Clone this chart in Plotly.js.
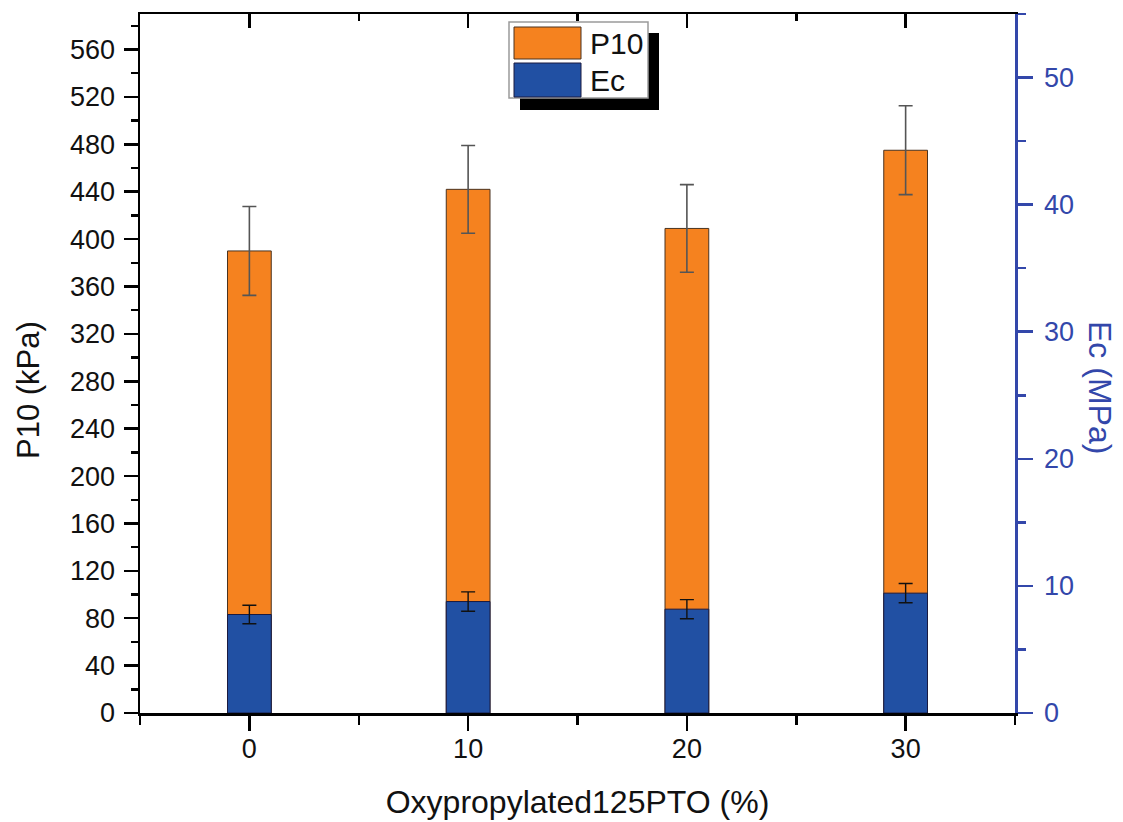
<!DOCTYPE html>
<html>
<head>
<meta charset="utf-8">
<script src="https://cdn.plot.ly/plotly-3.0.1.min.js"></script>
<style>
  html, body { margin: 0; padding: 0; background: #fff; }
  #chart { width: 1123px; height: 822px; }
</style>
</head>
<body>
<div id="chart"></div>
<script>
// Oxypropylated125PTO content (%)
const contents = [0, 10, 20, 30];

// P10 compressive stress (kPa) with standard deviation
const p10Values = [390, 442, 409, 475];
const p10Errors = [37.5, 37, 37, 37.5];

// Compressive modulus Ec (MPa) with standard deviation
const ecValues = [7.75, 8.77, 8.17, 9.43];
const ecErrors = [0.73, 0.76, 0.75, 0.76];

const seriesNames = ['P10', 'Ec'];
const axisTitles = { x: 'Oxypropylated125PTO (%)', y: 'P10 (kPa)', y2: 'Ec (MPa)' };

const ORANGE = '#F5821F';
const BLUE = '#2150A3';
const AXIS_BLUE = '#3347AA';
const FONT = 'Liberation Sans, Arial, sans-serif';

const W = 1123, H = 822;
const margin = { l: 140, r: 108, t: 14, b: 109, pad: 0 };
const plotW = W - margin.l - margin.r;
const plotH = H - margin.t - margin.b;

// pixel -> paper coordinate helpers for the legend box and side titles
const px = x => (x - margin.l) / plotW;
const py = y => (H - margin.b - y) / plotH;

const p10Trace = {
  type: 'bar',
  name: seriesNames[0],
  x: contents,
  y: p10Values,
  width: 2,
  marker: { color: ORANGE, line: { color: '#4a3320', width: 1 } },
  error_y: { type: 'data', array: p10Errors, visible: true, color: '#555', thickness: 1.6, width: 7 },
  xaxis: 'x',
  yaxis: 'y',
  showlegend: false
};

const ecTrace = {
  type: 'bar',
  name: seriesNames[1],
  x: contents,
  y: ecValues,
  width: 2,
  marker: { color: BLUE, line: { color: '#1a1a40', width: 1 } },
  error_y: { type: 'data', array: ecErrors, visible: true, color: '#111', thickness: 1.4, width: 7 },
  xaxis: 'x2',
  yaxis: 'y2',
  showlegend: false
};

const tickFont = { family: FONT, size: 27, color: '#111' };

const layout = {
  width: W,
  height: H,
  margin: margin,
  paper_bgcolor: '#fff',
  plot_bgcolor: '#fff',
  showlegend: false,
  barmode: 'overlay',
  xaxis: {
    range: [-5, 35],
    tickvals: contents,
    ticktext: contents.map(String),
    ticks: 'outside', ticklen: 15, tickwidth: 2.5, tickcolor: '#000',
    minor: { ticks: 'outside', ticklen: 9, tickwidth: 2.5, tickcolor: '#000', dtick: 5, tick0: -5 },
    showline: true, linecolor: '#000', linewidth: 2.5,
    showgrid: false, zeroline: false,
    tickfont: tickFont,
    ticklabelstandoff: -5,
    title: { text: axisTitles.x, font: { family: FONT, size: 32, color: '#111' }, standoff: 28 }
  },
  xaxis2: {
    overlaying: 'x',
    anchor: 'y2',
    side: 'top',
    range: [-5, 35],
    tickvals: contents,
    showticklabels: false,
    ticks: 'inside', ticklen: 14, tickwidth: 2.5, tickcolor: '#000',
    minor: { ticks: 'inside', ticklen: 7, tickwidth: 2.5, tickcolor: '#000', dtick: 5, tick0: -5 },
    showline: true, linecolor: '#000', linewidth: 2.5,
    showgrid: false, zeroline: false
  },
  yaxis: {
    range: [0, 590],
    dtick: 40, tick0: 0,
    ticks: 'outside', ticklen: 14, tickwidth: 2.5, tickcolor: '#000',
    minor: { ticks: 'outside', ticklen: 7, tickwidth: 2.5, tickcolor: '#000', dtick: 20, tick0: 0 },
    showline: true, linecolor: '#000', linewidth: 2.5,
    showgrid: false, zeroline: false,
    tickfont: tickFont,
    ticklabelstandoff: 3
  },
  yaxis2: {
    overlaying: 'y',
    side: 'right',
    anchor: 'x2',
    range: [0, 55],
    dtick: 10, tick0: 0,
    ticks: 'outside', ticklen: 15, tickwidth: 2.5, tickcolor: AXIS_BLUE,
    minor: { ticks: 'outside', ticklen: 8, tickwidth: 2.5, tickcolor: AXIS_BLUE, dtick: 5, tick0: 0 },
    showline: true, linecolor: AXIS_BLUE, linewidth: 2.5,
    showgrid: false, zeroline: false,
    tickfont: { family: FONT, size: 27, color: AXIS_BLUE },
    ticklabelstandoff: 6
  },
  shapes: [
    // legend drop shadow
    { type: 'rect', xref: 'paper', yref: 'paper', x0: px(520), x1: px(659), y0: py(110), y1: py(33),
      fillcolor: '#000', line: { width: 0 }, layer: 'above' },
    // legend frame
    { type: 'rect', xref: 'paper', yref: 'paper', x0: px(509), x1: px(648), y0: py(98), y1: py(22),
      fillcolor: '#fff', line: { color: '#9a9a9a', width: 1.5 }, layer: 'above' },
    // legend swatches
    { type: 'rect', xref: 'paper', yref: 'paper', x0: px(514), x1: px(581), y0: py(59), y1: py(27),
      fillcolor: ORANGE, line: { color: '#4a3320', width: 1 }, layer: 'above' },
    { type: 'rect', xref: 'paper', yref: 'paper', x0: px(514), x1: px(581), y0: py(97), y1: py(63),
      fillcolor: BLUE, line: { color: '#1a1a40', width: 1 }, layer: 'above' }
  ],
  annotations: [
    { xref: 'paper', yref: 'paper', x: px(588), y: py(44), xanchor: 'left', yanchor: 'middle',
      text: seriesNames[0], showarrow: false, font: { family: FONT, size: 30, color: '#111' } },
    { xref: 'paper', yref: 'paper', x: px(588), y: py(81), xanchor: 'left', yanchor: 'middle',
      text: seriesNames[1], showarrow: false, font: { family: FONT, size: 30, color: '#111' } },
    // left axis title
    { xref: 'paper', yref: 'paper', x: px(28), y: py(390), xanchor: 'center', yanchor: 'middle',
      text: axisTitles.y, textangle: -90, showarrow: false,
      font: { family: FONT, size: 31, color: '#111' } },
    // right axis title
    { xref: 'paper', yref: 'paper', x: px(1100), y: py(387), xanchor: 'center', yanchor: 'middle',
      text: axisTitles.y2, textangle: 90, showarrow: false,
      font: { family: FONT, size: 32, color: AXIS_BLUE } }
  ]
};

Plotly.newPlot('chart', [p10Trace, ecTrace], layout, { displayModeBar: false, staticPlot: true });
</script>
</body>
</html>
